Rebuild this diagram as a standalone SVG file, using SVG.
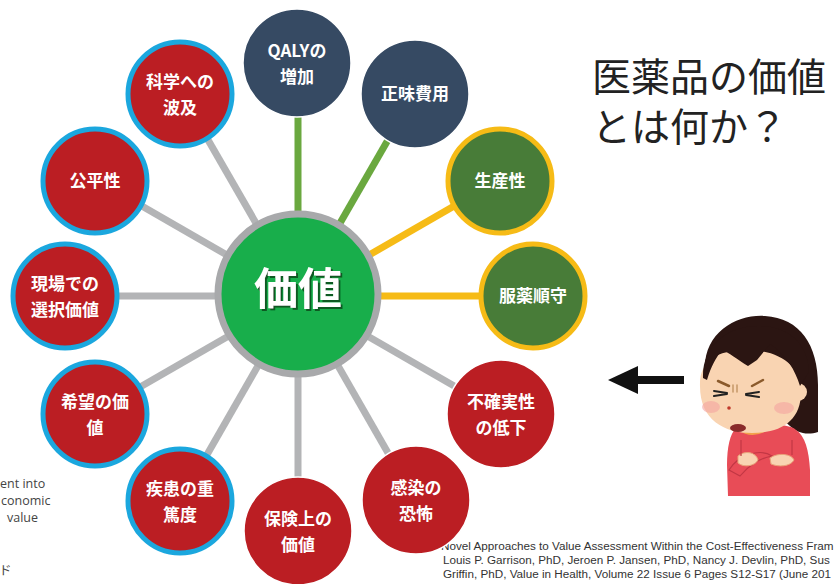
<svg xmlns="http://www.w3.org/2000/svg" width="834" height="584" viewBox="0 0 834 584">
  <defs>
    <style>
      .jp { font-family: "Noto Sans CJK JP", "Noto Sans", sans-serif; }
      .lbl { font-family: "Noto Sans CJK JP", "Noto Sans", sans-serif; font-weight: 700; font-size: 17px; fill: #ffffff; text-anchor: middle; }
      .ref { font-family: "Liberation Sans", Arial, sans-serif; font-size: 11.7px; fill: #333333; }
      .side { font-family: "Open Sans", "Noto Sans CJK JP", sans-serif; font-size: 12.5px; fill: #444444; }
      .red { fill: #bb1e23; stroke: #1ba7de; stroke-width: 5; }
      .redw { fill: #bb1e23; stroke: #ffffff; stroke-width: 1.5; }
      .navy { fill: #364a63; stroke: #ffffff; stroke-width: 1.5; }
      .grn { fill: #487c38; stroke: #f6bb16; stroke-width: 5; }
      .ln { stroke-width: 7; fill: none; }
      .gray { stroke: #b3b4b6; }
      .lg { stroke: #6aa83f; }
      .yl { stroke: #f6bb16; }
    </style>
    <filter id="shadow" x="-20%" y="-20%" width="140%" height="140%">
      <feDropShadow dx="2" dy="2" stdDeviation="0.6" flood-color="#0b5a24" flood-opacity="1"/>
    </filter>
  </defs>

  <rect width="834" height="584" fill="#ffffff"/>

  <!-- side text clipped at the left edge -->
  <g id="side-text" class="side">
    <text x="0" y="488">ent into</text>
    <text x="1" y="505">conomic</text>
    <text x="7" y="522">value</text>
    <text x="-1" y="575">ド</text>
  </g>

  <!-- reference citation -->
  <g id="citation" class="ref">
    <text x="441" y="550">Novel Approaches to Value Assessment Within the Cost-Effectiveness Fram</text>
    <text x="443" y="564">Louis P. Garrison, PhD, Jeroen P. Jansen, PhD, Nancy J. Devlin, PhD, Sus</text>
    <text x="443" y="578">Griffin, PhD, Value in Health, Volume 22 Issue 6 Pages S12-S17 (June 201</text>
  </g>

  <!-- spokes from the centre -->
  <g id="connectors" class="ln">
    <line class="lg" x1="298" y1="296" x2="298" y2="62"/>
    <line class="lg" x1="298" y1="296" x2="415" y2="93"/>
    <line class="yl" x1="298" y1="296" x2="501" y2="179"/>
    <line class="yl" x1="298" y1="296" x2="533" y2="296"/>
    <line class="gray" x1="298" y1="296" x2="501" y2="413"/>
    <line class="gray" x1="298" y1="296" x2="415" y2="500"/>
    <line class="gray" x1="298" y1="296" x2="298" y2="531"/>
    <line class="gray" x1="298" y1="296" x2="181" y2="500"/>
    <line class="gray" x1="298" y1="296" x2="95" y2="413"/>
    <line class="gray" x1="298" y1="296" x2="64" y2="296"/>
    <line class="gray" x1="298" y1="296" x2="95" y2="179"/>
    <line class="gray" x1="298" y1="296" x2="181" y2="93"/>
  </g>

  <!-- centre -->
  <g id="value">
    <circle cx="298" cy="294" r="80" fill="#18ae4b" stroke="#a8a9ab" stroke-width="7"/>
    <text x="298" y="305" class="jp" font-size="44" font-weight="700" fill="#ffffff" text-anchor="middle" filter="url(#shadow)">価値</text>
  </g>

  <g id="qaly">
    <circle cx="297" cy="63" r="54" class="navy"/>
    <text class="lbl" x="297" y="57">QALYの</text>
    <text class="lbl" x="297" y="83">増加</text>
  </g>
  <g id="net-cost">
    <circle cx="415" cy="94" r="54" class="navy"/>
    <text class="lbl" x="415" y="100">正味費用</text>
  </g>
  <g id="productivity">
    <circle cx="500" cy="181" r="52" class="grn"/>
    <text class="lbl" x="500" y="187">生産性</text>
  </g>
  <g id="adherence">
    <circle cx="533" cy="296" r="52" class="grn"/>
    <text class="lbl" x="533" y="302">服薬順守</text>
  </g>
  <g id="uncertainty">
    <circle cx="501" cy="414" r="54" class="redw"/>
    <text class="lbl" x="501" y="408">不確実性</text>
    <text class="lbl" x="501" y="434">の低下</text>
  </g>
  <g id="infection-fear">
    <circle cx="416" cy="500" r="54" class="redw"/>
    <text class="lbl" x="416" y="494">感染の</text>
    <text class="lbl" x="416" y="520">恐怖</text>
  </g>
  <g id="insurance">
    <circle cx="298" cy="531" r="54" class="redw"/>
    <text class="lbl" x="298" y="525">保険上の</text>
    <text class="lbl" x="298" y="551">価値</text>
  </g>
  <g id="severity">
    <circle cx="180" cy="501" r="52" class="red"/>
    <text class="lbl" x="180" y="495">疾患の重</text>
    <text class="lbl" x="180" y="521">篤度</text>
  </g>
  <g id="hope">
    <circle cx="95" cy="414" r="52" class="red"/>
    <text class="lbl" x="95" y="408">希望の価</text>
    <text class="lbl" x="95" y="434">値</text>
  </g>
  <g id="option-value">
    <circle cx="65" cy="296" r="52" class="red"/>
    <text class="lbl" x="65" y="290">現場での</text>
    <text class="lbl" x="65" y="316">選択価値</text>
  </g>
  <g id="equity">
    <circle cx="95" cy="181" r="52" class="red"/>
    <text class="lbl" x="95" y="187">公平性</text>
  </g>
  <g id="spillover">
    <circle cx="180" cy="94" r="52" class="red"/>
    <text class="lbl" x="180" y="88">科学への</text>
    <text class="lbl" x="180" y="114">波及</text>
  </g>

  <!-- title -->
  <g id="title" class="jp" font-size="39" fill="#222222">
    <text x="592" y="91">医薬品の価値</text>
    <text x="592" y="141">とは何か？</text>
  </g>

  <!-- arrow -->
  <g id="arrow" fill="#111111">
    <rect x="632" y="376" width="52" height="8"/>
    <polygon points="608,380 638,366 638,394"/>
  </g>

  <!-- girl with crossed arms -->
  <g id="girl">
    <path d="M706,380 C698,335 735,314 765,316 C800,318 818,345 818,385 L818,432 C806,436 796,432 790,426 L760,400 Z" fill="#2b1512"/>
    <path d="M736,428 C740,422 790,422 796,430 C805,436 809,450 810,470 L810,496 L728,496 L727,465 C727,447 730,434 736,428 Z" fill="#e84c57"/>
    <path d="M738,430 Q752,440 768,430 L766,426 L740,426 Z" fill="#f3a14a"/>
    <path d="M700,386 C699,362 716,350 746,350 C780,350 801,366 801,392 C801,421 781,433 752,433 C724,433 700,420 700,386 Z" fill="#f9d4b2"/>
    <circle cx="798" cy="392" r="9" fill="#f9d4b2"/>
    <path d="M703,378 C702,345 728,326 758,326 C790,326 808,345 809,372 L800,386 C795,370 787,356 770,344 L757,360 L748,366 C738,360 728,352 722,350 C716,358 711,366 707,380 Z" fill="#2b1512"/>
    <ellipse cx="711" cy="407" rx="9" ry="6" fill="#f3a3a0" opacity="0.6"/>
    <ellipse cx="784" cy="408" rx="10" ry="6" fill="#f3a3a0" opacity="0.6"/>
    <g stroke="#8b5a2b" stroke-width="2.5" stroke-linecap="round" fill="none">
      <path d="M718,381 L729,386"/>
      <path d="M752,386 L763,380"/>
    </g>
    <g stroke="#c89b6c" stroke-width="1.6" stroke-linecap="round">
      <path d="M733,385 L733,392"/>
      <path d="M737,385 L737,392"/>
    </g>
    <g stroke="#222" stroke-width="2" stroke-linecap="round" fill="none">
      <path d="M714,391 L727,393 M714,396 L727,394"/>
      <path d="M746,394 L759,392 M746,395 L759,397"/>
    </g>
    <circle cx="729" cy="408" r="1.8" fill="#c0392b"/>
    <ellipse cx="738" cy="428" rx="8" ry="4" fill="#8a2b2b"/>
    <path d="M729,470 C738,455 760,448 772,456 C760,458 748,466 740,476 Z" fill="#e84c57" stroke="#c23744" stroke-width="1.2"/>
    <path d="M738,456 C745,450 756,452 758,460 C755,466 744,468 738,463 Z" fill="#f9d4b2" stroke="#e9a37a" stroke-width="1"/>
    <path d="M770,458 C778,452 792,454 794,460 C790,467 778,467 771,464 Z" fill="#f9d4b2" stroke="#e9a37a" stroke-width="1"/>
    <path d="M741,440 L741,456 M792,440 L792,455" stroke="#c23744" stroke-width="1.2"/>
  </g>
</svg>
